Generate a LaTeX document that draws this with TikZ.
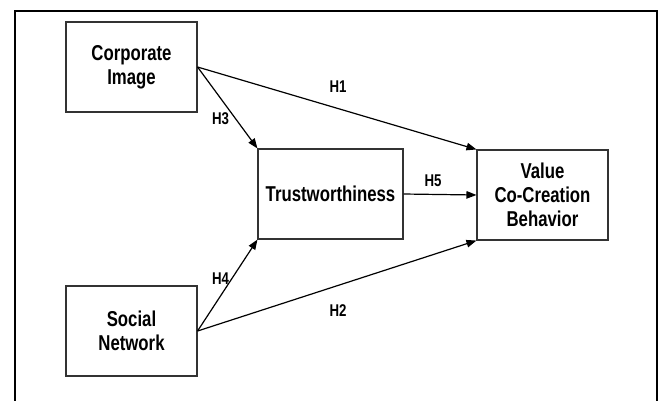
\documentclass[tikz,border=0pt]{standalone}
\usepackage{fontspec}
\setmainfont[FakeStretch=0.78]{Liberation Sans}
\usetikzlibrary{arrows.meta}
\tikzset{
  box/.style={draw=black!80, line width=1.1pt, minimum width=131pt, minimum height=90pt,
    align=center, inner sep=2pt, font=\fontsize{21.5}{24}\selectfont\bfseries},
  hyp/.style={font=\fontsize{17}{19}\selectfont\bfseries, inner sep=0pt},
  path/.style={line width=1.2pt, -{Triangle[length=10pt,width=7.5pt]}}
}
\begin{document}
\begin{tikzpicture}[x=1pt,y=-1pt]
    \useasboundingbox (0,0) rectangle (661,400);
    \draw[line width=2pt] (15,401) -- (15,11) -- (657,11) -- (657,401);
    \node[box] (ci) at (131.5,67) {Corporate\\Image};
    \node[box] (sn) at (131.5,331) {Social\\Network};
    \node[box, minimum width=145pt] (tw) at (330.5,194) {Trustworthiness};
    \node[box] (vb) at (542.5,195) {Value\\Co-Creation\\Behavior};
    \draw[path] (ci.east) -- (vb.north west);
    \draw[path] (ci.east) -- (tw.north west);
    \draw[path] (tw.east) -- (vb.west);
    \draw[path] (sn.east) -- (tw.south west);
    \draw[path] (sn.east) -- (vb.south west);
    \node[hyp] (h1) at (338,87) {H1};
    \node[hyp] (h2) at (338,311) {H2};
    \node[hyp] (h3) at (220.5,119) {H3};
    \node[hyp] (h4) at (220.5,278.5) {H4};
    \node[hyp] (h5) at (433,181) {H5};
\end{tikzpicture}
\end{document}
